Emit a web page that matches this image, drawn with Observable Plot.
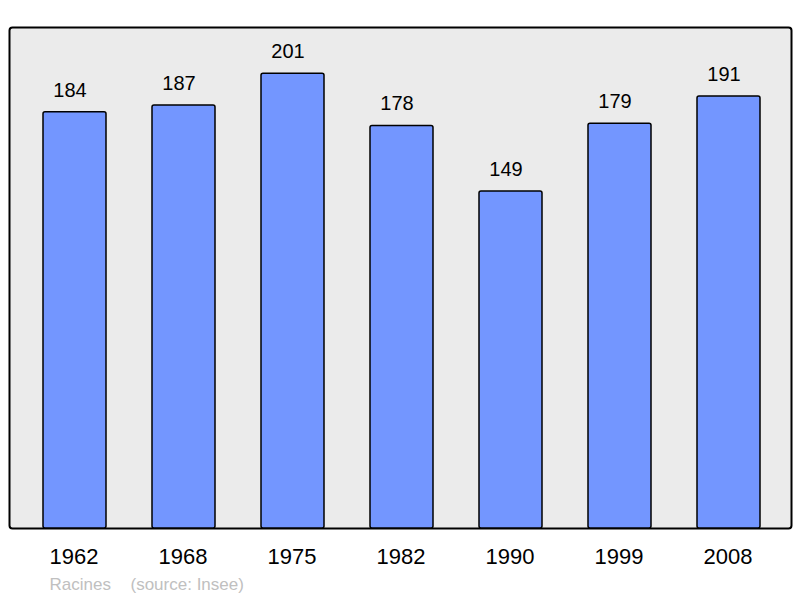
<!DOCTYPE html>
<html>
<head>
<meta charset="utf-8">
<script src="https://cdn.jsdelivr.net/npm/d3@7"></script>
<script src="https://cdn.jsdelivr.net/npm/@observablehq/plot@0.6"></script>
<style>
  html, body { margin: 0; padding: 0; background: #ffffff; }
  #chart svg { display: block; }
</style>
</head>
<body>
<div id="chart"></div>
<script>
const years = ["1962", "1968", "1975", "1982", "1990", "1999", "2008"];
const population = [184, 187, 201, 178, 149, 179, 191];
const captionPlace = "Racines";
const captionSource = "(source: Insee)";

const data = years.map((y, i) => ({year: y, value: population[i]}));
const font = "Liberation Sans, Arial, Helvetica, sans-serif";

const chart = Plot.plot({
  width: 800,
  height: 598,
  marginTop: 27,
  marginBottom: 70,
  marginLeft: 9,
  marginRight: 9,
  style: {fontFamily: font, background: "#ffffff"},
  x: {domain: years, range: [18.3, 784.2], paddingInner: 0.424, paddingOuter: 0.212, label: null},
  y: {domain: [0, 221.5], axis: null},
  marks: [
    Plot.frame({fill: "#ebebeb", stroke: "#000000", strokeWidth: 2, rx: 3}),
    Plot.barY(data, {x: "year", y: "value", fill: "#7396ff", stroke: "#000000", strokeWidth: 1.5, rx: 2}),
    Plot.text(data, {x: "year", y: "value", text: d => String(d.value), dy: -22, dx: -5, fontSize: 20, fill: "#000000", lineAnchor: "middle"}),
    Plot.axisX({tickSize: 0, tickPadding: 20, fontSize: 22, fill: "#000000", label: null, dx: -1}),
    Plot.text([captionPlace], {frameAnchor: "bottom-left", dx: 40, dy: 56, fontSize: 17, fill: "#c0c0c0", textAnchor: "start", lineAnchor: "middle"}),
    Plot.text([captionSource], {frameAnchor: "bottom-left", dx: 121, dy: 56, fontSize: 17, fill: "#c0c0c0", textAnchor: "start", lineAnchor: "middle"})
  ]
});
document.getElementById("chart").appendChild(chart);
</script>
</body>
</html>
